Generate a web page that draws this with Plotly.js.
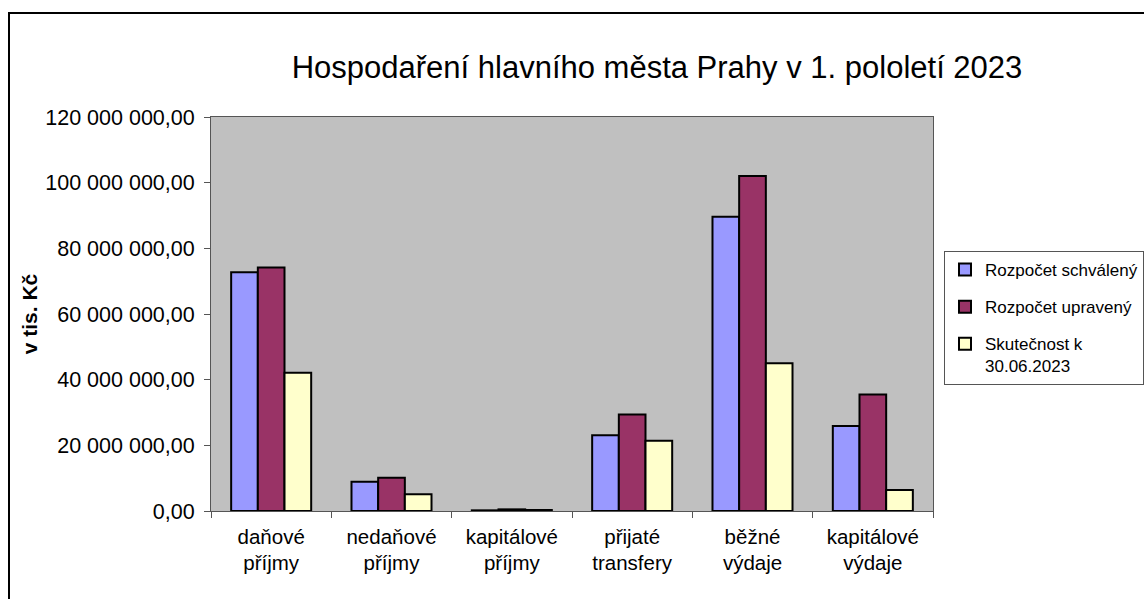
<!DOCTYPE html>
<html>
<head>
<meta charset="utf-8">
<script src="https://cdn.plot.ly/plotly-3.0.1.min.js"></script>
<style>
html,body{margin:0;padding:0;background:#fff;}
#chart{width:1144px;height:599px;}
</style>
</head>
<body>
<div id="chart"></div>
<script>
const categories = ["daňové<br>příjmy", "nedaňové<br>příjmy", "kapitálové<br>příjmy", "přijaté<br>transfery", "běžné<br>výdaje", "kapitálové<br>výdaje"];
const seriesNames = ["Rozpočet schválený", "Rozpočet upravený", "Skutečnost k<br>30.06.2023"];
const rozpocetSchvaleny = [72700000, 8900000, 200000, 23100000, 89600000, 25900000];
const rozpocetUpraveny = [74200000, 10100000, 500000, 29400000, 102000000, 35500000];
const skutecnost = [42100000, 5100000, 300000, 21400000, 45000000, 6400000];
const colors = ["#9999ff", "#993366", "#ffffcc"];

const W = 1144, H = 599;
const L = 211, R = 211, T = 117, B = 88;
const pw = W - L - R, ph = H - T - B;
const px = v => (v - L) / pw;
const py = v => (H - B - v) / ph;

const allSeries = [rozpocetSchvaleny, rozpocetUpraveny, skutecnost];
const traces = allSeries.map((vals, i) => ({
  type: "bar",
  x: categories,
  y: vals,
  name: seriesNames[i],
  legendgroup: "g" + i,
  marker: {color: colors[i], line: {color: "#000", width: 2}},
  hoverinfo: "y"
}));

const font = "Liberation Sans, Arial, sans-serif";
const layout = {
  width: W, height: H,
  margin: {l: L, r: R, t: T, b: B, pad: 0, autoexpand: false},
  paper_bgcolor: "#ffffff",
  plot_bgcolor: "#c0c0c0",
  separators: ", ",
  barmode: "group",
  bargap: 0.335,
  bargroupgap: 0,
  font: {family: font, color: "#000"},
  title: {
    text: "Hospodaření hlavního města Prahy v 1. pololetí 2023",
    font: {family: font, size: 31, color: "#000"},
    x: px(657), xref: "paper", xanchor: "center",
    y: 1 - 67 / H, yref: "container", yanchor: "middle"
  },
  xaxis: {
    type: "category",
    tickfont: {family: font, size: 20.5, color: "#000"},
    ticks: "outside", tickson: "boundaries", ticklen: 6, tickcolor: "#555",
    ticklabelstandoff: 7,
    showline: true, linecolor: "#555", linewidth: 1, mirror: true,
    showgrid: false, fixedrange: true
  },
  yaxis: {
    range: [0, 120000000],
    tickvals: [0, 20000000, 40000000, 60000000, 80000000, 100000000, 120000000],
    tickformat: ",.2f",
    tickfont: {family: font, size: 21.5, color: "#000"},
    ticks: "outside", ticklen: 6, tickcolor: "#555",
    ticklabelstandoff: 5,
    showline: true, linecolor: "#555", linewidth: 1, mirror: true,
    showgrid: false, zeroline: false, fixedrange: true,
    title: {text: "v tis. Kč", font: {family: font, size: 21, color: "#000", weight: "bold"}, standoff: 1}
  },
  legend: {
    x: px(944), xanchor: "left",
    y: py(251), yanchor: "top",
    bgcolor: "#ffffff",
    bordercolor: "#555", borderwidth: 1,
    font: {family: font, size: 17, color: "#000"},
    tracegroupgap: 12,
    valign: "top",
    traceorder: "grouped"
  },
  shapes: [{
    type: "rect", xref: "paper", yref: "paper",
    x0: px(9), x1: px(1160), y0: py(612), y1: py(13),
    line: {color: "#000", width: 2}, fillcolor: "rgba(0,0,0,0)", layer: "below"
  }]
};

Plotly.newPlot("chart", traces, layout, {displayModeBar: false, staticPlot: true});
</script>
</body>
</html>
